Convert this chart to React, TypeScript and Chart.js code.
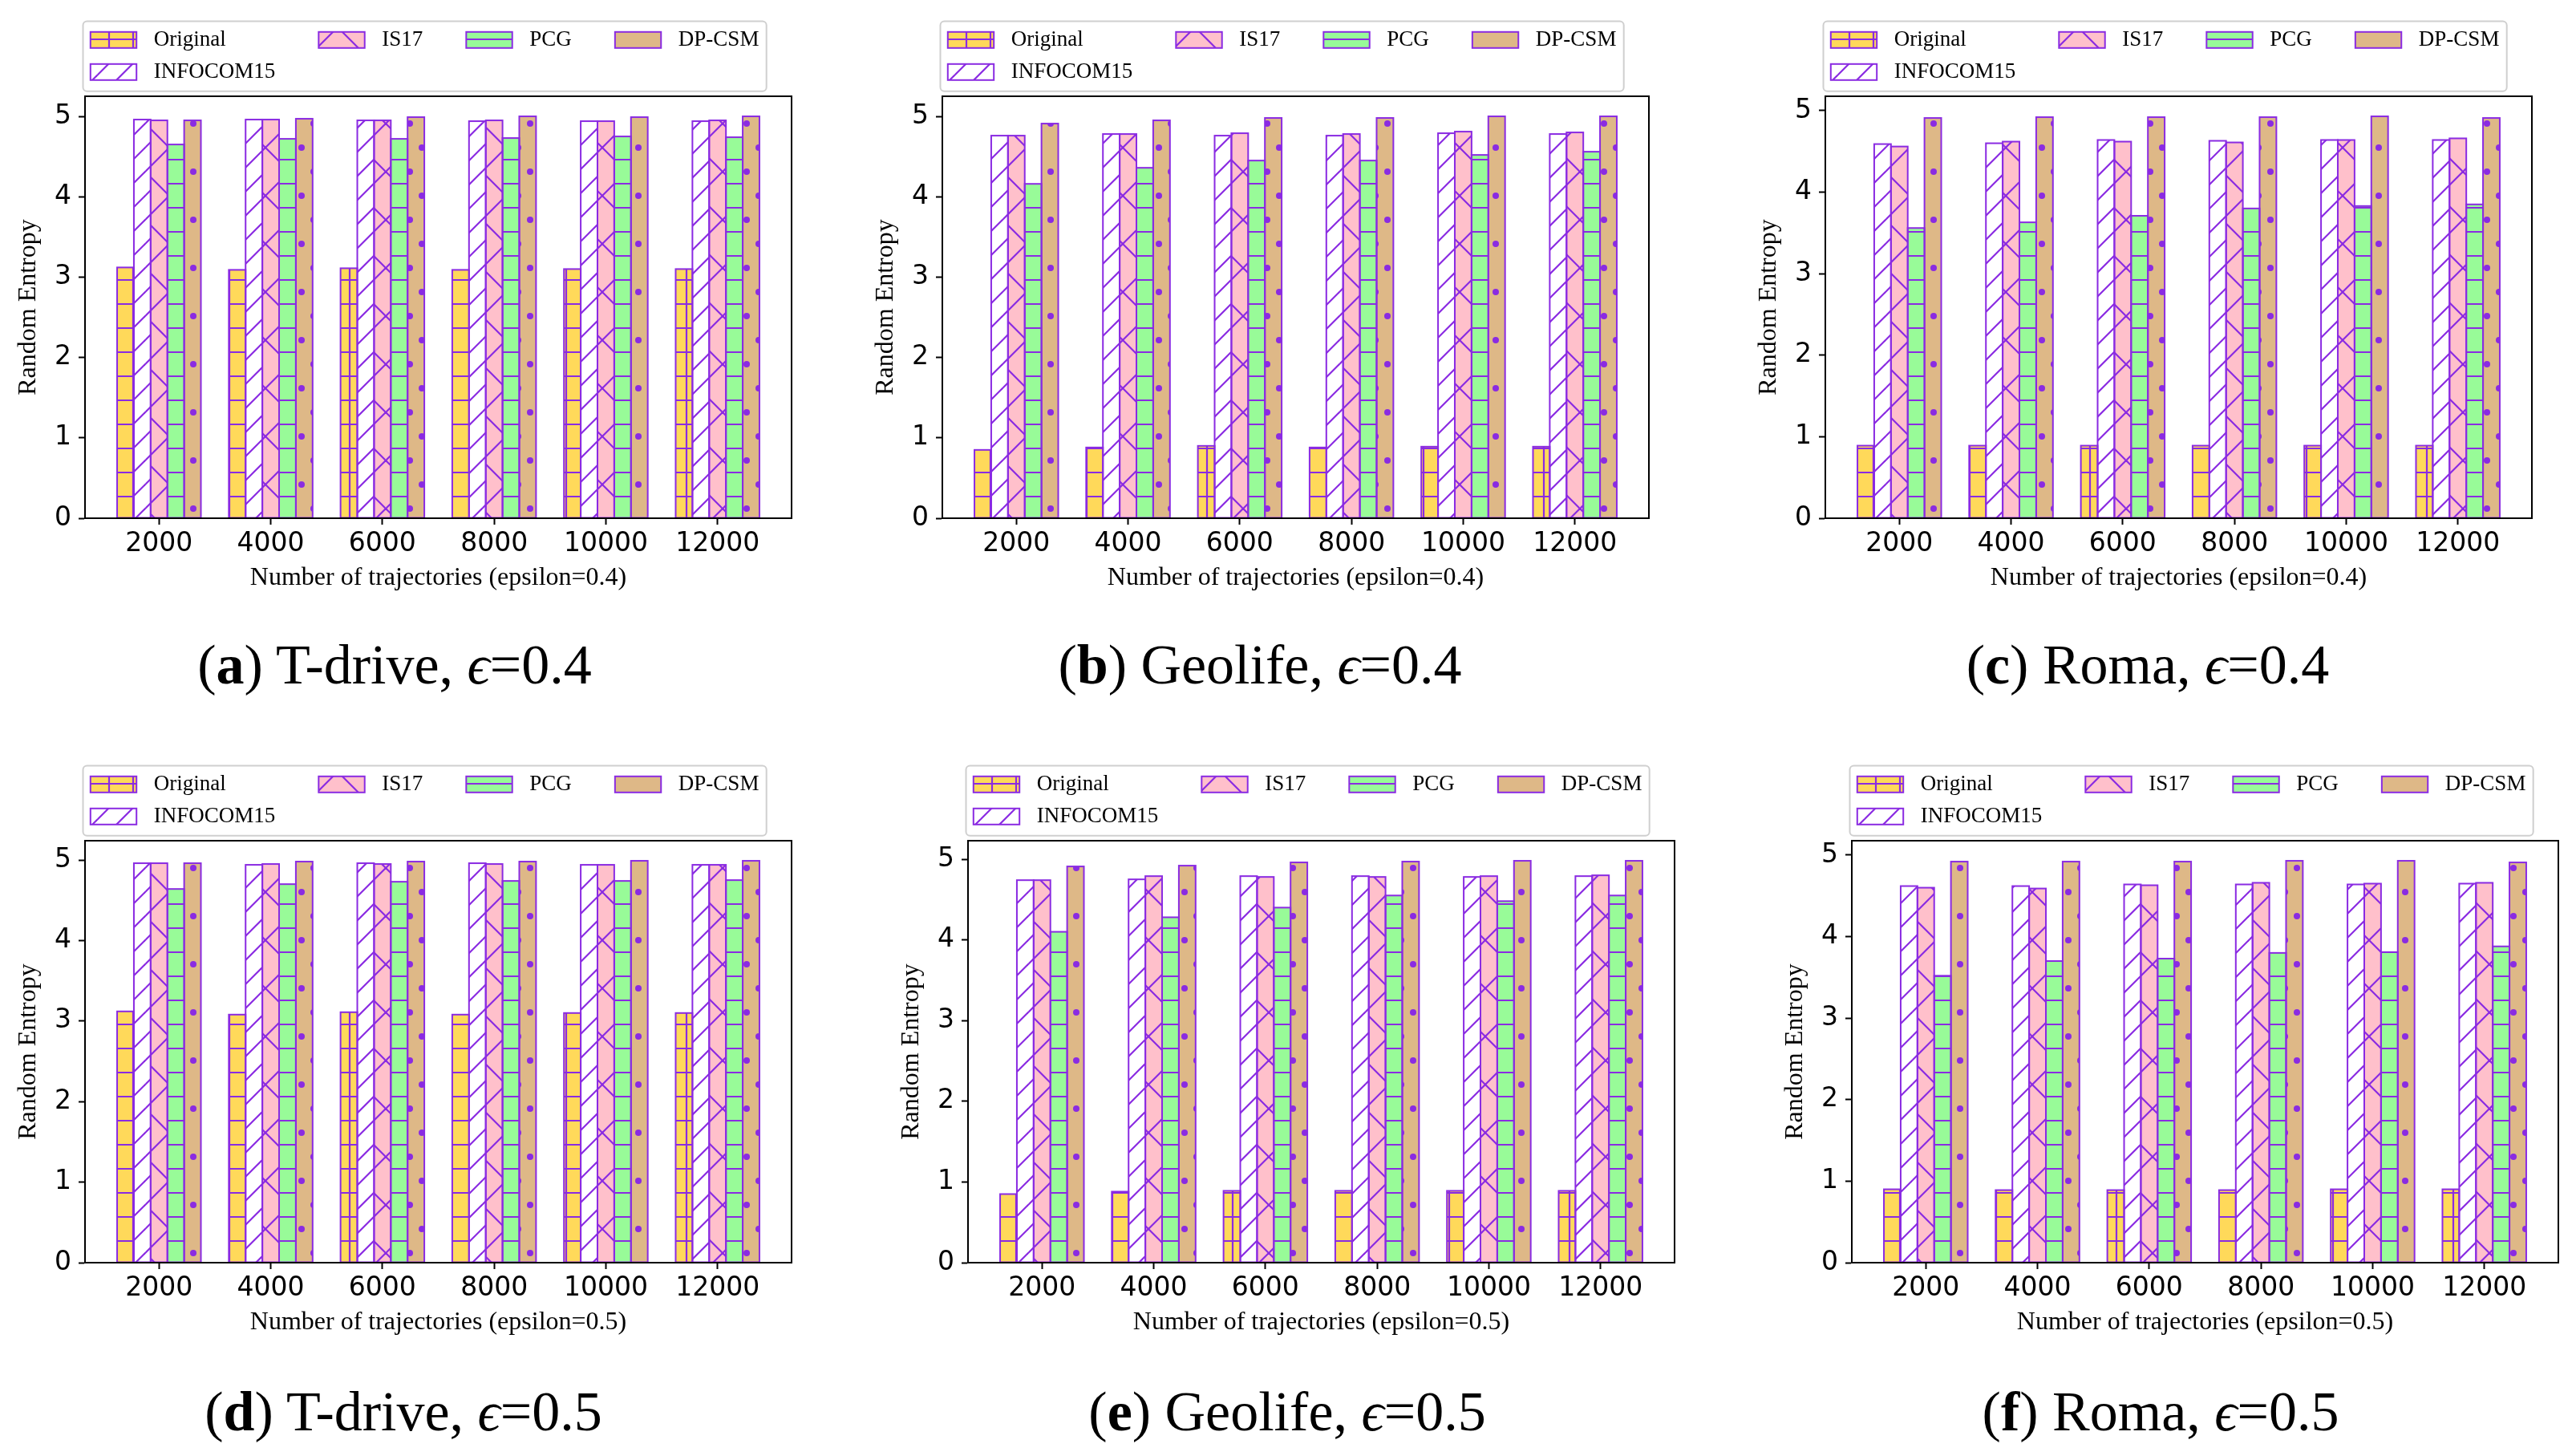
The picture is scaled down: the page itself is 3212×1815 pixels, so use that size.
import React, { useEffect, useRef } from 'react';
import { Chart, registerables } from 'chart.js';

Chart.register(...registerables);

// ---------------- data ----------------
const categories = ['2000', '4000', '6000', '8000', '10000', '12000'];
const seriesNames = ['Original', 'INFOCOM15', 'IS17', 'PCG', 'DP-CSM'];
const yTickValues = [0, 1, 2, 3, 4, 5];

// (a) T-drive, epsilon = 0.4
const tdrive04Original = [3.12, 3.09, 3.11, 3.09, 3.10, 3.10];
const tdrive04Infocom15 = [4.96, 4.96, 4.95, 4.94, 4.94, 4.94];
const tdrive04Is17 = [4.95, 4.96, 4.95, 4.95, 4.94, 4.95];
const tdrive04Pcg = [4.65, 4.72, 4.72, 4.73, 4.75, 4.74];
const tdrive04DpCsm = [4.95, 4.97, 4.99, 5.00, 4.99, 5.00];

// (b) Geolife, epsilon = 0.4
const geolife04Original = [0.85, 0.88, 0.90, 0.88, 0.89, 0.89];
const geolife04Infocom15 = [4.76, 4.78, 4.76, 4.76, 4.79, 4.78];
const geolife04Is17 = [4.76, 4.78, 4.79, 4.78, 4.81, 4.80];
const geolife04Pcg = [4.16, 4.36, 4.45, 4.45, 4.52, 4.56];
const geolife04DpCsm = [4.91, 4.95, 4.98, 4.98, 5.00, 5.00];

// (c) Roma, epsilon = 0.4
const roma04Original = [0.89, 0.89, 0.89, 0.89, 0.89, 0.89];
const roma04Infocom15 = [4.59, 4.60, 4.64, 4.63, 4.64, 4.64];
const roma04Is17 = [4.56, 4.62, 4.62, 4.61, 4.64, 4.66];
const roma04Pcg = [3.56, 3.63, 3.71, 3.80, 3.83, 3.85];
const roma04DpCsm = [4.91, 4.92, 4.92, 4.92, 4.93, 4.91];

// (d) T-drive, epsilon = 0.5
const tdrive05Original = [3.12, 3.08, 3.11, 3.08, 3.10, 3.10];
const tdrive05Infocom15 = [4.96, 4.94, 4.96, 4.96, 4.94, 4.94];
const tdrive05Is17 = [4.96, 4.95, 4.95, 4.95, 4.94, 4.94];
const tdrive05Pcg = [4.64, 4.70, 4.73, 4.74, 4.74, 4.75];
const tdrive05DpCsm = [4.96, 4.98, 4.98, 4.98, 4.99, 4.99];

// (e) Geolife, epsilon = 0.5
const geolife05Original = [0.85, 0.88, 0.89, 0.89, 0.89, 0.89];
const geolife05Infocom15 = [4.74, 4.75, 4.79, 4.79, 4.78, 4.79];
const geolife05Is17 = [4.74, 4.79, 4.78, 4.78, 4.79, 4.80];
const geolife05Pcg = [4.10, 4.28, 4.40, 4.55, 4.48, 4.55];
const geolife05DpCsm = [4.91, 4.92, 4.96, 4.97, 4.98, 4.98];

// (f) Roma, epsilon = 0.5
const roma05Original = [0.90, 0.89, 0.89, 0.89, 0.90, 0.90];
const roma05Infocom15 = [4.62, 4.62, 4.64, 4.64, 4.64, 4.65];
const roma05Is17 = [4.60, 4.59, 4.63, 4.66, 4.65, 4.66];
const roma05Pcg = [3.52, 3.70, 3.73, 3.80, 3.81, 3.88];
const roma05DpCsm = [4.92, 4.92, 4.92, 4.93, 4.93, 4.91];

const panelSeries = [
  [tdrive04Original, tdrive04Infocom15, tdrive04Is17, tdrive04Pcg, tdrive04DpCsm],
  [geolife04Original, geolife04Infocom15, geolife04Is17, geolife04Pcg, geolife04DpCsm],
  [roma04Original, roma04Infocom15, roma04Is17, roma04Pcg, roma04DpCsm],
  [tdrive05Original, tdrive05Infocom15, tdrive05Is17, tdrive05Pcg, tdrive05DpCsm],
  [geolife05Original, geolife05Infocom15, geolife05Is17, geolife05Pcg, geolife05DpCsm],
  [roma05Original, roma05Infocom15, roma05Is17, roma05Pcg, roma05DpCsm],
];
const panelXLabels = [
  'Number of trajectories (epsilon=0.4)',
  'Number of trajectories (epsilon=0.4)',
  'Number of trajectories (epsilon=0.4)',
  'Number of trajectories (epsilon=0.5)',
  'Number of trajectories (epsilon=0.5)',
  'Number of trajectories (epsilon=0.5)',
];
const panelLetters = ['a', 'b', 'c', 'd', 'e', 'f'];
const panelDatasets = ['T-drive', 'Geolife', 'Roma', 'T-drive', 'Geolife', 'Roma'];
const panelEpsilons = ['0.4', '0.4', '0.4', '0.5', '0.5', '0.5'];
const yLabel = 'Random Entropy';

// ---------------- layout & style ----------------
const panelLayout = [
  { axLeft: 106, axTop: 120, capX: 492, capBase: 853 },
  { axLeft: 1175, axTop: 120, capX: 1571, capBase: 853 },
  { axLeft: 2276, axTop: 120, capX: 2678, capBase: 853 },
  { axLeft: 106, axTop: 1048, capX: 503, capBase: 1784 },
  { axLeft: 1207, axTop: 1048, capX: 1605, capBase: 1784 },
  { axLeft: 2309, axTop: 1048, capX: 2694, capBase: 1784 },
];

const seriesFill = ['#FFD95A', '#FFFFFF', '#FFC0CB', '#98FB98', '#DEB887'];
const seriesHatch = ['+', '//', 'x', '-', '.'];
const EDGE = '#8A2BE2';
const BAR_LW = 2;
const HATCH_LW = 2.2;
const DOT_R = 4;
const AX_W = 881;
const AX_H = 526;
const PAD_L = 110;
const PAD_R = 20;
const PAD_T = 100;
const PAD_B = 100;
const CANVAS_W = AX_W + PAD_L + PAD_R;
const CANVAS_H = AX_H + PAD_T + PAD_B;
const X_MARGIN = 0.6625;
const PAT_OX = 5;
const PAT_OY = 14;

const tickFont = { family: 'DejaVu Sans', size: 33 };
const labelFont = { family: 'Liberation Serif', size: 32 };
const LEGEND_FONT = '27px "Liberation Serif"';

function makeTile(fill: string, hatch: string): HTMLCanvasElement {
  const T = 60;
  const c = document.createElement('canvas');
  c.width = T;
  c.height = T;
  const g = c.getContext('2d')!;
  g.fillStyle = fill;
  g.fillRect(0, 0, T, T);
  g.strokeStyle = EDGE;
  g.fillStyle = EDGE;
  g.lineWidth = HATCH_LW;
  const seg = (x1: number, y1: number, x2: number, y2: number) => {
    g.beginPath();
    g.moveTo(x1, y1);
    g.lineTo(x2, y2);
    g.stroke();
  };
  if (hatch === '+' || hatch === '-') {
    [15, 45].forEach((v) => seg(-2, v, T + 2, v));
  }
  if (hatch === '+') {
    [15, 45].forEach((u) => seg(u, -2, u, T + 2));
  }
  if (hatch === '//') {
    for (let c0 = -30; c0 <= 150; c0 += 30) seg(c0 + 10, -10, c0 - 70, 70);
  }
  if (hatch === 'x') {
    for (let c0 = 0; c0 <= 120; c0 += 60) seg(c0 + 10, -10, c0 - 70, 70);
    for (let c0 = -60; c0 <= 60; c0 += 60) seg(c0 - 10, -10, c0 + 70, 70);
  }
  if (hatch === '.') {
    const pts = [
      [0, 0], [30, 0], [60, 0], [0, 60], [30, 60], [60, 60], [15, 30], [45, 30],
    ];
    pts.forEach(([u, v]) => {
      g.beginPath();
      g.arc(u, v, DOT_R, 0, Math.PI * 2);
      g.fill();
    });
  }
  return c;
}

function Panel({ idx }: { idx: number }) {
  const ref = useRef<HTMLCanvasElement>(null);
  const lay = panelLayout[idx];

  useEffect(() => {
    const canvas = ref.current!;
    const ctx = canvas.getContext('2d')!;
    const patterns = seriesFill.map((f, k) => {
      const p = ctx.createPattern(makeTile(f, seriesHatch[k]), 'repeat')!;
      p.setTransform(new DOMMatrix([1, 0, 0, 1, PAT_OX, PAT_OY]));
      return p;
    });
    const series = panelSeries[idx];
    const ymax = Math.max(...series.map((s) => Math.max(...s))) * 1.05;

    const outlinePlugin = {
      id: 'outlineFrame',
      afterDatasetsDraw(chart: any) {
        const c = chart.ctx;
        c.save();
        c.strokeStyle = EDGE;
        c.lineWidth = BAR_LW;
        chart.data.datasets.forEach((_: any, di: number) => {
          const meta = chart.getDatasetMeta(di);
          meta.data.forEach((el: any) => {
            const { x, y, base, width } = el.getProps(['x', 'y', 'base', 'width'], true);
            c.strokeRect(x - width / 2, Math.min(y, base), width, Math.abs(base - y));
          });
        });
        const a = chart.chartArea;
        c.strokeStyle = '#000';
        c.lineWidth = 2;
        c.strokeRect(a.left, a.top, a.right - a.left, a.bottom - a.top);
        c.restore();
      },
    };

    const legendPlugin = {
      id: 'hatchLegend',
      afterDraw(chart: any) {
        const c = chart.ctx;
        const a = chart.chartArea;
        c.save();
        c.font = LEGEND_FONT;
        const columns = [[0, 1], [2], [3], [4]];
        const handleW = 57.4;
        const handleH = 20;
        const textGap = 21.6;
        const colSpacing = 54;
        const boxLeft = a.left - 2.5;
        const boxTop = a.top - 93.5;
        const boxBottom = a.top - 6.2;
        const colX: number[] = [];
        let x = a.left + 6.8;
        let lastEnd = x;
        columns.forEach((col) => {
          colX.push(x);
          const w = Math.max(...col.map((k) => c.measureText(seriesNames[k]).width));
          lastEnd = x + handleW + textGap + w;
          x = lastEnd + colSpacing;
        });
        const boxRight = lastEnd + 9.3;
        c.fillStyle = '#fff';
        c.strokeStyle = '#cfcfcf';
        c.lineWidth = 2;
        c.beginPath();
        c.roundRect(boxLeft, boxTop, boxRight - boxLeft, boxBottom - boxTop, 5);
        c.fill();
        c.stroke();
        const rowTop = [a.top - 80.2, a.top - 40.2];
        columns.forEach((col, ci) => {
          col.forEach((k, ri) => {
            const hx = colX[ci];
            const hy = rowTop[ri];
            c.fillStyle = patterns[k];
            c.fillRect(hx, hy, handleW, handleH);
            c.strokeStyle = EDGE;
            c.lineWidth = BAR_LW;
            c.strokeRect(hx, hy, handleW, handleH);
            c.fillStyle = '#000';
            c.textAlign = 'left';
            c.textBaseline = 'middle';
            c.fillText(seriesNames[k], hx + handleW + textGap, hy + handleH / 2);
          });
        });
        c.restore();
      },
    };

    const chart = new Chart(canvas, {
      type: 'bar',
      data: {
        datasets: series.map((vals, k) => ({
          label: seriesNames[k],
          data: vals.map((v, i) => ({ x: i, y: v })),
          backgroundColor: patterns[k],
          borderWidth: 0,
          categoryPercentage: 0.75,
          barPercentage: 1.0,
        })),
      },
      options: {
        responsive: false,
        animation: false,
        devicePixelRatio: 1,
        events: [],
        layout: { padding: { left: 0, right: PAD_R, top: PAD_T, bottom: 0 } },
        plugins: { legend: { display: false }, tooltip: { enabled: false }, title: { display: false } },
        scales: {
          x: {
            type: 'linear',
            bounds: 'data',
            min: -X_MARGIN,
            max: categories.length - 1 + X_MARGIN,
            offset: false,
            grid: {
              display: true,
              offset: false,
              drawOnChartArea: false,
              drawTicks: true,
              tickLength: 8,
              tickWidth: 2,
              tickColor: '#000',
              color: '#000',
            },
            border: { display: true, color: '#000', width: 2 },
            ticks: {
              autoSkip: false,
              maxRotation: 0,
              minRotation: 0,
              padding: 5,
              color: '#000',
              font: tickFont,
              callback: (v: any) => categories[Math.round(Number(v))] ?? '',
            },
            afterBuildTicks: (s: any) => {
              s.ticks = categories.map((_, i) => ({ value: i }));
            },
            afterFit: (s: any) => {
              s.height = PAD_B;
            },
            title: {
              display: true,
              text: panelXLabels[idx],
              color: '#000',
              font: labelFont,
              padding: { top: 0, bottom: 6 },
            },
          },
          y: {
            type: 'linear',
            bounds: 'data',
            min: 0,
            max: ymax,
            grid: {
              display: true,
              drawOnChartArea: false,
              drawTicks: true,
              tickLength: 8,
              tickWidth: 2,
              tickColor: '#000',
              color: '#000',
            },
            border: { display: true, color: '#000', width: 2 },
            ticks: {
              padding: 9,
              color: '#000',
              font: tickFont,
              callback: (v: any) => String(v),
            },
            afterBuildTicks: (s: any) => {
              s.ticks = yTickValues.map((v) => ({ value: v }));
            },
            afterFit: (s: any) => {
              s.width = PAD_L;
            },
            title: {
              display: true,
              text: yLabel,
              color: '#000',
              font: labelFont,
              padding: { top: 20, bottom: 0 },
            },
          },
        },
      } as any,
      plugins: [outlinePlugin, legendPlugin],
    } as any);
    return () => chart.destroy();
  }, [idx]);

  return (
    <div
      style={{
        position: 'absolute',
        left: lay.axLeft - PAD_L,
        top: lay.axTop - PAD_T,
        width: CANVAS_W,
        height: CANVAS_H,
      }}
    >
      <canvas ref={ref} width={CANVAS_W} height={CANVAS_H} style={{ width: CANVAS_W, height: CANVAS_H, display: 'block' }} />
    </div>
  );
}

function Caption({ idx }: { idx: number }) {
  const lay = panelLayout[idx];
  return (
    <div
      style={{
        position: 'absolute',
        left: lay.capX - 500,
        width: 1000,
        top: lay.capBase - 58.6,
        fontFamily: '"Liberation Serif", "DejaVu Serif", serif',
        fontSize: 70,
        lineHeight: '70px',
        textAlign: 'center',
        whiteSpace: 'nowrap',
        color: '#000',
      }}
    >
      (<b>{panelLetters[idx]}</b>) {panelDatasets[idx]}, <i>{'\u03F5'}</i>={panelEpsilons[idx]}
    </div>
  );
}

export default function App() {
  return (
    <div
      style={{
        position: 'absolute',
        left: 0,
        top: 0,
        width: 3212,
        height: 1815,
        overflow: 'hidden',
        background: '#fff',
      }}
    >
      {panelLayout.map((_, i) => (
        <Panel key={'p' + i} idx={i} />
      ))}
      {panelLayout.map((_, i) => (
        <Caption key={'c' + i} idx={i} />
      ))}
    </div>
  );
}
